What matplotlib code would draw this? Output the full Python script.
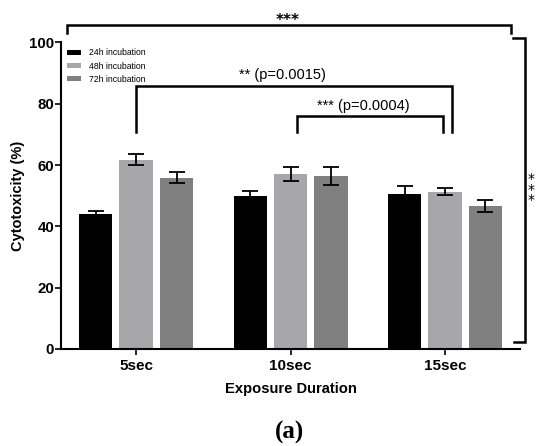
import matplotlib
matplotlib.use("Agg")
import matplotlib.pyplot as plt
import numpy as np

plt.rcParams['font.family'] = ['Liberation Sans', 'DejaVu Sans']

categories = ["5sec", "10sec", "15sec"]
series_names = ["24h incubation", "48h incubation", "72h incubation"]
values_24h = [43.9, 49.9, 50.5]
values_48h = [61.7, 57.1, 51.3]
values_72h = [55.9, 56.5, 46.7]
err_24h = [1.1, 1.7, 2.6]
err_48h = [1.8, 2.3, 1.1]
err_72h = [1.7, 3.0, 2.0]
colors = ["#000000", "#a7a7a9", "#808080"]

fig = plt.figure(figsize=(5.36, 4.46), dpi=100)
ax = fig.add_axes([0.114, 0.2175, 0.856, 0.6875])

x = np.arange(len(categories))
pitch = 0.262
width = 0.214
allv = [values_24h, values_48h, values_72h]
alle = [err_24h, err_48h, err_72h]
for i, (v, e, c, n) in enumerate(zip(allv, alle, colors, series_names)):
    ax.bar(x + (i - 1) * pitch, v, width, color=c, label=n, zorder=2)
    ax.errorbar(x + (i - 1) * pitch, v, yerr=e, fmt='none', ecolor='black',
                elinewidth=1.3, capsize=6, capthick=1.3, zorder=3)

ax.set_xlim(-0.485, 2.485)
ax.set_ylim(0, 100)
ax.set_yticks([0, 20, 40, 60, 80, 100])
ax.set_xticks(x)
ax.set_xticklabels(categories, fontsize=11, fontweight='bold')
for lab in ax.get_yticklabels():
    lab.set_fontweight('bold')
    lab.set_fontsize(10.8)
ax.tick_params(axis='y', length=4, width=1.2, pad=1)
ax.tick_params(axis='x', length=4, width=1.2, pad=3)
for s in ['top', 'right']:
    ax.spines[s].set_visible(False)
for s in ['left', 'bottom']:
    ax.spines[s].set_linewidth(1.5)

ax.set_ylabel("Cytotoxicity (%)", fontsize=10.5, fontweight='bold', labelpad=3)
ax.set_xlabel("Exposure Duration", fontsize=10.6, fontweight='bold', labelpad=7)

leg = ax.legend(loc='upper left', bbox_to_anchor=(0.0, 1.0), frameon=False,
                fontsize=6.2, handlelength=1.6, handleheight=0.5,
                labelspacing=0.5, handletextpad=0.9, borderaxespad=0.3)

lw = 1.8
kw = dict(color='black', lw=lw, clip_on=False, solid_joinstyle='miter')
# top bracket
ax.plot([-0.447, -0.447, 2.427, 2.427], [103.0, 105.6, 105.6, 103.0], **kw)
ax.text(0.98, 104.7, "***", ha='center', va='bottom', fontsize=11,
        fontweight='bold', family=['DejaVu Sans'], clip_on=False)
# right vertical bracket
ax.plot([2.44, 2.518, 2.518, 2.447], [101.4, 101.4, 2.3, 2.3], **kw)
ax.text(2.555, 52, "*\n*\n*", ha='center', va='center', fontsize=10,
        linespacing=0.72, family=['DejaVu Sans'], clip_on=False)
# bracket 2
ax.plot([0.0, 0.0, 2.045, 2.045], [70.75, 85.75, 85.75, 70.75], **kw)
ax.text(0.95, 87.0, "** (p=0.0015)", ha='center', va='bottom', fontsize=10.5)
# bracket 3
ax.plot([1.04, 1.04, 1.99, 1.99], [70.8, 76.0, 76.0, 70.8], **kw)
ax.text(1.47, 77.0, "*** (p=0.0004)", ha='center', va='bottom', fontsize=10.5)

fig.text(290 / 536, 1 - 432 / 446, "(a)", ha='center', va='center',
         fontsize=18, fontweight='bold', family=['Liberation Serif', 'DejaVu Serif'])

fig.savefig("out.png", dpi=100, facecolor='white')
